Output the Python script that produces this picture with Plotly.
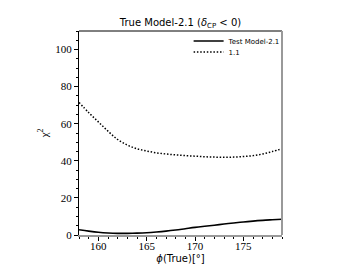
import plotly.graph_objects as go

phi = list(range(158, 180))
model_21 = [2.8, 2.1, 1.5, 1.1, 0.9, 0.9, 1.0, 1.2, 1.6, 2.1, 2.7, 3.4, 4.1, 4.7,
            5.3, 5.9, 6.5, 7.0, 7.5, 7.9, 8.2, 8.5]
model_11 = [71.5, 66.0, 61.0, 56.0, 51.5, 48.5, 46.5, 45.3, 44.3, 43.7, 43.2, 42.8,
            42.5, 42.2, 42.0, 41.9, 42.0, 42.3, 42.8, 43.7, 45.0, 46.5]
x_ticks = [160, 165, 170, 175]
y_ticks = [0, 20, 40, 60, 80, 100]

fig = go.Figure()
fig.add_trace(go.Scatter(x=phi, y=model_21, mode="lines", name="Test Model-2.1",
                         legend="legend", showlegend=True,
                         line=dict(color="black", width=1.6, shape="spline")))
fig.add_trace(go.Scatter(x=phi, y=model_11, mode="lines", name="1.1",
                         legend="legend2", showlegend=True,
                         line=dict(color="black", width=1.5, dash="1.5px,1.8px", shape="spline")))

serif = "Liberation Serif, DejaVu Serif, serif"
sans = "DejaVu Sans, sans-serif"
leg_common = dict(xanchor="left", yanchor="middle", bgcolor="rgba(0,0,0,0)", visible=True,
                  font=dict(family=sans, size=7, color="black"), itemwidth=30)
# page body adds an 8px offset, so the figure is 8px smaller and margins shifted
fig.update_layout(
    width=344, height=256, showlegend=True,
    margin=dict(l=71, r=70, t=23, b=29, autoexpand=False),
    paper_bgcolor="white", plot_bgcolor="white",
    title=dict(text="True Model-2.1 (<i>δ</i><sub>CP</sub> &lt; 0)", x=0.5, xanchor="center",
               xref="paper", y=0.945, yanchor="middle", automargin=False,
               font=dict(family=sans, size=10, color="black")),
    legend=dict(x=0.54, y=0.951, **leg_common),
    legend2=dict(x=0.54, y=0.897, **leg_common),
    xaxis=dict(range=[158, 179], tickvals=x_ticks, ticks="outside", ticklen=4,
               tickcolor="black", showgrid=False, zeroline=False, automargin=False,
               showline=True, linecolor="#999999", linewidth=2, ticklabelstandoff=-4,
               tickfont=dict(family=serif, size=11, color="black"),
               title=dict(text="<i>ϕ</i>(True)[°]", standoff=4,
                          font=dict(family=sans, size=10, color="black")),
               minor=dict(dtick=1, ticks="outside", ticklen=2, tickcolor="black")),
    yaxis=dict(range=[0, 110], tickvals=y_ticks, ticks="outside", ticklen=4,
               tickcolor="black", showgrid=False, zeroline=False, automargin=False,
               showline=True, linecolor="black", linewidth=1,
               tickfont=dict(family=serif, size=11, color="black"),
               title=dict(text="χ<sup>2</sup>", standoff=4,
                          font=dict(family=serif, size=11, color="black")),
               minor=dict(dtick=5, ticks="outside", ticklen=2, tickcolor="black")),
)
fig.add_shape(type="line", xref="paper", yref="paper", x0=0, x1=1, y0=1, y1=1,
              line=dict(color="black", width=1))
fig.add_shape(type="line", xref="paper", yref="paper", x0=1, x1=1, y0=0, y1=1,
              line=dict(color="#999999", width=2))
fig.write_html("out.html")
